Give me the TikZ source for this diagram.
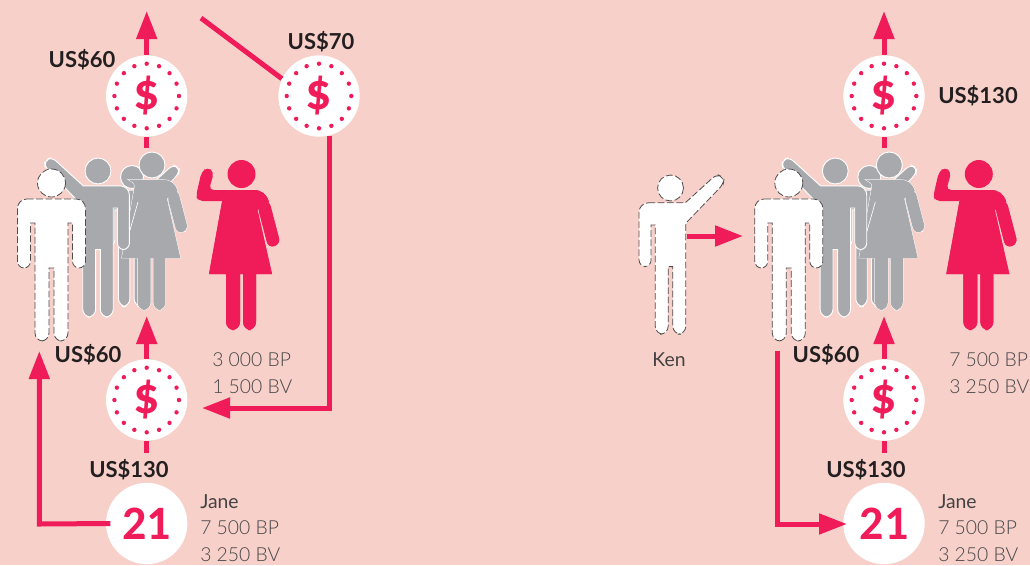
\documentclass[tikz,border=0pt]{standalone}
\usepackage{fontspec}
\setmainfont{Lato}
\newfontfamily\thinfont{Lato Light}
\newfontfamily\coinfont{Carlito}
\usetikzlibrary{arrows.meta,positioning,calc}
\definecolor{softpink}{RGB}{247,208,201}
\definecolor{softred}{RGB}{240,28,90}
\definecolor{softgrey}{RGB}{167,169,172}
\definecolor{softink}{RGB}{35,31,32}
\definecolor{softtext}{RGB}{70,70,72}
\newcommand{\womanparts}[1]{%
  \path[pic actions,#1] [rounded corners=6pt] (-15.5,95) -- (-15.5,156) -- (-1.5,156) [sharp corners] -- (-1.5,95) -- cycle;
  \path[pic actions,#1] [rounded corners=6pt] (1.5,95) -- (1.5,156) -- (14.5,156) [sharp corners] -- (14.5,95) -- cycle;
  \path[pic actions,#1] (-25,16) -- (12,16) .. controls (20,16) and (25,20) .. (27.5,28) -- (16,36) -- (30.5,100) -- (-32.5,100) -- (-19.5,28) .. controls (-18,20) .. (-25,16) -- cycle;
  \path[pic actions,#1] [rounded corners=4.5pt] (16,32) -- (27,74) -- (39,70) -- (27.5,26) -- cycle;
}
\tikzset{
  flow/.style={softred,line width=3.75pt},
  flowarrow/.style={flow,-{Triangle[length=21pt,width=15pt]}},
  coinbox/.style={circle,fill=white,minimum size=61pt,inner sep=0pt,text=softred,font=\coinfont\fontsize{39pt}{39pt}\bfseries},
  numbox/.style={coinbox,font=\coinfont\fontsize{36pt}{36pt}\bfseries},
  sumlabel/.style={font=\fontsize{16.5pt}{17pt}\bfseries,text=softink,inner sep=0pt},
  infolabel/.style={font=\thinfont\fontsize{14.5pt}{16pt}\selectfont,text=softtext,anchor=west,inner sep=0pt},
  namelabel/.style={font=\fontsize{14.5pt}{16pt}\selectfont,text=softink!85,anchor=west,inner sep=0pt},
  dashedfig/.style={fill=white,draw=softink!80,line width=.6pt,dash pattern=on 5pt off 2pt},
  greyfig/.style={fill=softgrey,draw=white,line width=.7pt},
  redfig/.style={fill=softred},
  pics/manfig/.style={code={
    \path[pic actions] (0,0) circle (14);
    \path[pic actions] [rounded corners=7pt] (-34,16) -- (34,16) [rounded corners=5pt] -- (34,85) -- (21,85) [sharp corners] -- (21,40) -- (16.5,40) [rounded corners=6pt] -- (16.5,158) -- (2.5,158) [sharp corners] -- (2.5,85) -- (-2.5,85) [rounded corners=6pt] -- (-2.5,158) -- (-16.5,158) [sharp corners] -- (-16.5,40) -- (-21,40) [rounded corners=5pt] -- (-21,85) -- (-34,85) [rounded corners=7pt] -- cycle;
  }},
  pics/manarm/.style={code={
    \path[pic actions] (0,0) circle (14);
    \path[pic actions] [rounded corners=7pt] (-34,16) [sharp corners] -- (16,16) [rounded corners=4pt] -- (50,-15) -- (58,-11) -- (57,-4) [sharp corners] -- (18.5,36) -- (16.5,40) [rounded corners=6pt] -- (16.5,158) -- (2.5,158) [sharp corners] -- (2.5,85) -- (-2.5,85) [rounded corners=6pt] -- (-2.5,158) -- (-16.5,158) [sharp corners] -- (-16.5,40) -- (-21,40) [rounded corners=5pt] -- (-21,85) -- (-34,85) [rounded corners=7pt] -- cycle;
  }},
  pics/womanfig/.style={code={
    \path[pic actions] (0,0) circle (14);
    \womanparts{}
    \womanparts{draw=none}
  }},
  pics/crowd/.style={code={
    \path pic[greyfig,scale=.82] at (132,177) {manarm};
    \path pic[greyfig,scale=.93] at (152,165) {womanfig};
    \draw[white,line width=.5pt] (138,202) -- (128,237);
    \path pic[greyfig,xscale=-.925,yscale=.925] at (98,171) {manarm};
    \path pic[dashedfig] at (51.5,183) {manfig};
    \path pic[redfig] at (241.5,174) {womanfig};
    \path[redfig] [rounded corners=3.5pt] (201.5,172) -- (207.5,167) -- (214,172) -- (209,190) [sharp corners] -- (226,190) -- (222,201) [rounded corners=3.5pt] -- (198,201) -- (196,196) -- cycle;
  }}
}
\newcommand{\coin}[2]{%
  \node[coinbox] (#1) at (#2) {\$};
  \foreach \k in {0,22.5,...,337.5}{\fill[softred] (#1.center) ++(\k:32.3) circle (2.2);}
}
\begin{document}
\begin{tikzpicture}[x=.75pt,y=-.75pt]
  \useasboundingbox (0,0) rectangle (1030,565);
  \fill[softpink] (0,0) rectangle (1030,565);

  % left panel
  \coordinate (topA) at (146.7,11);
  \coordinate (stubA) at (146.7,148);
  \coordinate (upA) at (146.7,316);
  \coordinate (stubB) at (146.7,453);
  \coordinate (farA) at (201,18);
  \coordinate (turnA) at (329,408);
  \coordinate (backA) at (202,408);
  \coordinate (turnB) at (39.3,524);
  \coordinate (tipB) at (39.3,351);
  \path pic at (0,0) {crowd};
  \coin{coinA}{146.7,96}
  \coin{coinB}{319,96}
  \coin{coinC}{146.7,400}
  \node[numbox] (numA) at (146.7,523.5) {21};
  \draw[flowarrow] (coinA.north) -- (topA);
  \draw[flow] (coinA.south) -- (stubA);
  \draw[flowarrow] (coinC.north) -- (upA);
  \draw[flow] (coinC.south) -- (stubB);
  \draw[flow] (coinB.155) -- (farA);
  \draw[flowarrow] (coinB.-76 -| turnA) -- (turnA) -- (backA);
  \draw[flowarrow] ([xshift=3.4pt]numA.west) -- (turnB) -- (tipB);
  \node[sumlabel] (sumA) at (82,60) {US\$60};
  \node[sumlabel] (sumB) at (321,42) {US\$70};
  \node[sumlabel] (sumC) at (88,355) {US\$60};
  \node[sumlabel] (sumD) at (129,470) {US\$130};
  \node[infolabel] (bpA) at (212,360) {3 000 BP};
  \node[infolabel] (bvA) at (212,387) {1 500 BV};
  \node[namelabel] (janeA) at (200,502) {Jane};
  \node[infolabel] (bpB) at (200,528) {7 500 BP};
  \node[infolabel] (bvB) at (200,555) {3 250 BV};

  % right panel
  \coordinate (topB) at (884,11);
  \coordinate (stubC) at (884,148);
  \coordinate (upB) at (884,316);
  \coordinate (stubD) at (884,453);
  \coordinate (kenA) at (687,236);
  \coordinate (kenB) at (743,236);
  \coordinate (startC) at (777,351);
  \coordinate (turnC) at (777,524);
  \coordinate (tipC) at (847,524);
  \path pic at (737.3,0) {crowd};
  \path pic[dashedfig,scale=.925] at (670.5,188) {manarm};
  \coin{coinD}{884,96}
  \coin{coinE}{884,400}
  \node[numbox] (numB) at (884,523.5) {21};
  \draw[flowarrow] (coinD.north) -- (topB);
  \draw[flow] (coinD.south) -- (stubC);
  \draw[flowarrow] (coinE.north) -- (upB);
  \draw[flow] (coinE.south) -- (stubD);
  \draw[flowarrow] (kenA) -- (kenB);
  \draw[flowarrow] (startC) -- (turnC) -- (tipC);
  \node[sumlabel] (sumE) at (978,96) {US\$130};
  \node[sumlabel] (sumF) at (826,355) {US\$60};
  \node[sumlabel] (sumG) at (866,470) {US\$130};
  \node[namelabel,anchor=center] (ken) at (669,360) {Ken};
  \node[infolabel] (bpC) at (949,360) {7 500 BP};
  \node[infolabel] (bvC) at (949,387) {3 250 BV};
  \node[namelabel] (janeB) at (938,502) {Jane};
  \node[infolabel] (bpD) at (938,528) {7 500 BP};
  \node[infolabel] (bvD) at (938,555) {3 250 BV};
\end{tikzpicture}
\end{document}
